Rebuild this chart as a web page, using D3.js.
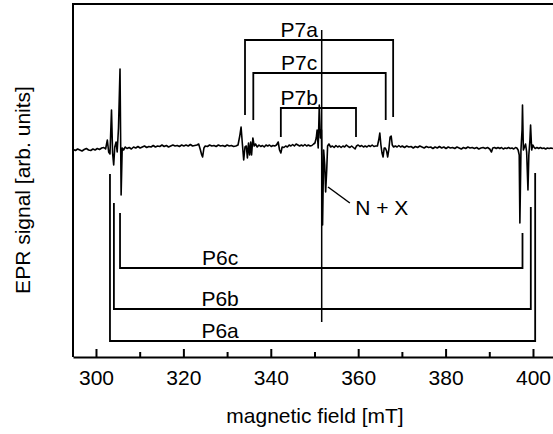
<!DOCTYPE html>
<html>
<head>
<meta charset="utf-8">
<script src="https://cdn.jsdelivr.net/npm/d3@7"></script>
<style>
  body { margin: 0; background: #fff; }
  svg text { font-family: "Liberation Sans", Arial, Helvetica, sans-serif; font-size: 21px; fill: #000; }
</style>
</head>
<body>
<div id="chart"></div>
<script>
// EPR spectrum, [field in mT, signal in arb. units]
var spectrum = [
  [294.8, 0.5], [295.3, -0.5], [295.8, 1], [296.3, 0], [296.8, -1], [297.3, 0.5], [297.8, 1.5],
  [298.3, 0], [298.8, -0.5], [299.3, 1], [299.8, 0], [300.3, 1.5], [300.8, 0.5], [301.3, 2],
  [301.8, 2.5], [302.2, 1], [302.6, 10], [302.9, -2], [303.2, -4], [303.55, 40], [303.8, -3],
  [304.05, -15], [304.3, 3], [304.6, 8], [304.85, -2], [305.15, 22], [305.5, 81], [305.75, -45],
  [306.0, 2], [306.3, 0], [306.7, 3], [307.1, 1.5], [307.6, 2.5], [308.1, 1], [308.6, 3],
  [309.1, 2], [309.6, 3.5], [310.1, 2], [310.6, 3], [311.1, 4], [311.6, 2.5], [312.1, 3.5],
  [312.6, 3], [313.1, 4.5], [313.6, 3], [314.1, 4], [314.6, 3.5], [315.1, 5], [315.6, 3.5],
  [316.1, 4.5], [316.6, 3], [317.1, 4], [317.6, 5], [318.1, 4], [318.6, 4.5], [319.1, 3.5],
  [319.6, 5], [320.1, 4], [320.6, 5], [321.1, 4], [321.6, 5.5], [322.1, 4], [322.6, 4.5],
  [323.1, 5], [323.5, 6], [323.9, 0], [324.2, -5], [324.4, -7], [324.7, 2], [325.0, 4],
  [325.5, 3.5], [326.0, 5], [326.5, 4], [327.0, 4.5], [327.5, 3.5], [328.0, 5], [328.5, 4],
  [329.0, 4.5], [329.5, 3.5], [330.0, 5], [330.5, 4], [331.0, 4.5], [331.5, 3.5], [332.0, 4],
  [332.5, 5], [332.9, 14], [333.2, 23], [333.5, 6], [333.8, -10], [334.1, 3], [334.4, 4],
  [334.65, -8], [334.9, 7], [335.15, -5], [335.4, 8], [335.6, -5], [335.9, 12], [336.2, 4],
  [336.5, 6], [336.9, 3], [337.3, 5], [337.7, 3.5], [338.1, 4.5], [338.5, 3], [338.9, 5],
  [339.3, 4], [339.7, 5], [340.1, 3.5], [340.5, 4.5], [340.9, 4], [341.3, 5], [341.7, 8],
  [342.0, 0], [342.3, -3], [342.6, 3], [343.0, 2.5], [343.4, 4], [343.8, 3], [344.2, 5],
  [344.6, 4], [345.0, 5.5], [345.4, 4], [345.8, 6], [346.2, 5], [346.6, 4], [347.0, 5],
  [347.4, 4], [347.8, 5.5], [348.2, 4], [348.6, 5], [349.0, 4], [349.4, 4.5], [349.8, 6],
  [350.1, 7], [350.4, 12], [350.6, 20], [350.85, 2], [351.1, 45], [351.35, 12], [351.6, 20],
  [351.85, -75], [352.1, 0], [352.35, -15], [352.55, -42], [352.8, -20], [353.0, 4], [353.3, 6],
  [353.7, 3], [354.1, 4], [354.5, 2.5], [354.9, 4.5], [355.3, 3], [355.7, 4], [356.1, 2.5],
  [356.5, 4], [356.9, 3], [357.3, 5], [357.7, 3.5], [358.1, 2.5], [358.5, 4], [358.9, 2.5],
  [359.3, 1], [359.6, 4], [360.0, 5], [360.4, 3.5], [360.8, 4.5], [361.2, 3], [361.6, 4],
  [362.0, 3], [362.4, 4.5], [362.8, 3.5], [363.2, 5], [363.6, 3.5], [364.0, 4], [364.4, 4],
  [364.7, 10], [364.95, 17], [365.2, 5], [365.45, -3], [365.7, -7], [365.95, 2], [366.2, 2],
  [366.5, -1], [366.75, -7], [367.0, 0], [367.3, 13], [367.55, 14], [367.8, 5], [368.1, 3],
  [368.5, 4], [368.9, 3], [369.3, 4.5], [369.7, 3], [370.1, 4], [370.6, 2.5], [371.1, 4],
  [371.6, 3], [372.1, 3.5], [372.6, 2], [373.1, 3.5], [373.6, 2.5], [374.1, 4], [374.6, 3],
  [375.1, 2], [375.6, 3.5], [376.1, 2.5], [376.6, 3], [377.1, 1.5], [377.6, 3], [378.1, 2],
  [378.6, 3.5], [379.1, 2], [379.6, 3], [380.1, 1.5], [380.6, 3], [381.1, 2], [381.6, 2.5],
  [382.1, 1.5], [382.6, 3], [383.1, 2], [383.6, 1], [384.1, 2.5], [384.6, 1.5], [385.1, 3],
  [385.6, 2], [386.1, 2.5], [386.6, 1.5], [387.1, 2.5], [387.6, 1], [388.1, 2], [388.6, 2.5],
  [389.1, 1.5], [389.6, 2.5], [390.1, 1], [390.5, -2], [390.8, 2], [391.2, 2.5], [391.6, 1.5],
  [392.0, 2.5], [392.4, 1.5], [392.8, 2.5], [393.2, 1], [393.6, 2], [394.0, 1.5], [394.4, 2.5],
  [394.8, 1.5], [395.2, 2], [395.6, 1], [396.0, 2.5], [396.3, 2], [396.6, 0], [396.85, -5],
  [397.0, -73], [397.25, 0], [397.5, 20], [397.6, 45], [397.8, 0], [398.05, 3], [398.3, 6],
  [398.55, -2], [398.85, -40], [399.05, -5], [399.3, 10], [399.45, 25], [399.7, 0], [399.95, 5],
  [400.2, 3], [400.5, 1.5], [400.9, 2.5], [401.3, 1.5], [401.7, 2.5], [402.1, 1.5], [402.5, 2],
  [402.9, 1], [403.3, 2], [403.7, 1.5], [404.1, 2], [404.6, 1.5]
];

// brackets grouping the lines of each centre
var bracketNames = ["P7a", "P7c", "P7b", "P6c", "P6b", "P6a"];
var bracketLeft = [334.1, 336.0, 342.3, 305.5, 304.1, 303.2];
var bracketRight = [368.0, 366.3, 359.5, 397.6, 399.5, 400.5];
var bracketLevel = [110, 77, 42, -118, -159, -191];
var legEndLeft = [35, 30, 13, -63, -53, -24];
var legEndRight = [33, 30, 13, -83, -57, -23];
var labelField = [346.5, 346.5, 346.5, 328.4, 328.4, 328.4];

// N + X marker
var markerName = "N + X";
var markerField = 351.65;
var markerSpan = [120, -172];
var pointerFrom = [353.1, -37];
var pointerTo = [358.1, -53];
var markerLabelAt = [359.3, -65];

var majorTicks = [300, 320, 340, 360, 380, 400];
var minorTicks = [310, 330, 350, 370, 390];

var fieldRange = [294.74, 404.58];
var signalRange = [-207, 146];

var W = 553, H = 434;
var margin = { top: 4, right: 0, bottom: 77, left: 73 };

var svg = d3.select("#chart").append("svg")
  .attr("width", W)
  .attr("height", H);

var x = d3.scaleLinear().domain(fieldRange).range([margin.left, W - margin.right]);
var y = d3.scaleLinear().domain(signalRange).range([H - margin.bottom, margin.top]);

svg.append("clipPath").attr("id", "plotclip")
  .append("rect")
  .attr("x", margin.left)
  .attr("y", margin.top)
  .attr("width", W - margin.left - margin.right)
  .attr("height", H - margin.top - margin.bottom);

// spectrum trace
var valueline = d3.line()
  .x(function(d) { return x(d[0]); })
  .y(function(d) { return y(d[1]); });

svg.append("path")
  .datum(spectrum)
  .attr("clip-path", "url(#plotclip)")
  .attr("fill", "none")
  .attr("stroke", "#000")
  .attr("stroke-width", 1.6)
  .attr("stroke-linejoin", "round")
  .attr("d", valueline);

// brackets
bracketNames.forEach(function(name, i) {
  var p = d3.path();
  p.moveTo(x(bracketLeft[i]), y(legEndLeft[i]));
  p.lineTo(x(bracketLeft[i]), y(bracketLevel[i]));
  p.lineTo(x(bracketRight[i]), y(bracketLevel[i]));
  p.lineTo(x(bracketRight[i]), y(legEndRight[i]));
  svg.append("path")
    .attr("d", p.toString())
    .attr("fill", "none")
    .attr("stroke", "#000")
    .attr("stroke-width", 1.8);
  svg.append("text")
    .attr("x", x(labelField[i]))
    .attr("y", y(bracketLevel[i]) - 3)
    .attr("text-anchor", "middle")
    .text(name);
});

// marker line and pointer
svg.append("line")
  .attr("x1", x(markerField)).attr("x2", x(markerField))
  .attr("y1", y(markerSpan[0])).attr("y2", y(markerSpan[1]))
  .attr("stroke", "#000")
  .attr("stroke-width", 1.5);
svg.append("line")
  .attr("x1", x(pointerFrom[0])).attr("y1", y(pointerFrom[1]))
  .attr("x2", x(pointerTo[0])).attr("y2", y(pointerTo[1]))
  .attr("stroke", "#000")
  .attr("stroke-width", 1.5);
svg.append("text")
  .attr("x", x(markerLabelAt[0]))
  .attr("y", y(markerLabelAt[1]))
  .text(markerName);

// frame: left and top
svg.append("path")
  .attr("d", "M" + margin.left + "," + (H - margin.bottom) + "V" + margin.top + "H" + W)
  .attr("fill", "none")
  .attr("stroke", "#000")
  .attr("stroke-width", 2);

// x axis, ticks pointing inward
var xAxis = svg.append("g")
  .attr("transform", "translate(0," + (H - margin.bottom) + ")")
  .call(d3.axisBottom(x).tickValues(majorTicks).tickSizeInner(-8).tickSizeOuter(0).tickPadding(13));
xAxis.select(".domain").attr("stroke-width", 2);
xAxis.selectAll(".tick line").attr("stroke-width", 2);
xAxis.selectAll(".tick text")
  .style("font-family", "\"Liberation Sans\", Arial, sans-serif")
  .style("font-size", "21px");

var xMinor = svg.append("g")
  .attr("transform", "translate(0," + (H - margin.bottom) + ")")
  .call(d3.axisBottom(x).tickValues(minorTicks).tickSizeInner(-5).tickSizeOuter(0).tickFormat(""));
xMinor.select(".domain").remove();
xMinor.selectAll(".tick line").attr("stroke-width", 2);

// axis titles
svg.append("text")
  .attr("x", 315)
  .attr("y", 423)
  .attr("text-anchor", "middle")
  .text("magnetic field [mT]");

svg.append("text")
  .attr("transform", "translate(30," + 190 + ") rotate(-90)")
  .attr("text-anchor", "middle")
  .text("EPR signal [arb. units]");
</script>
</body>
</html>
